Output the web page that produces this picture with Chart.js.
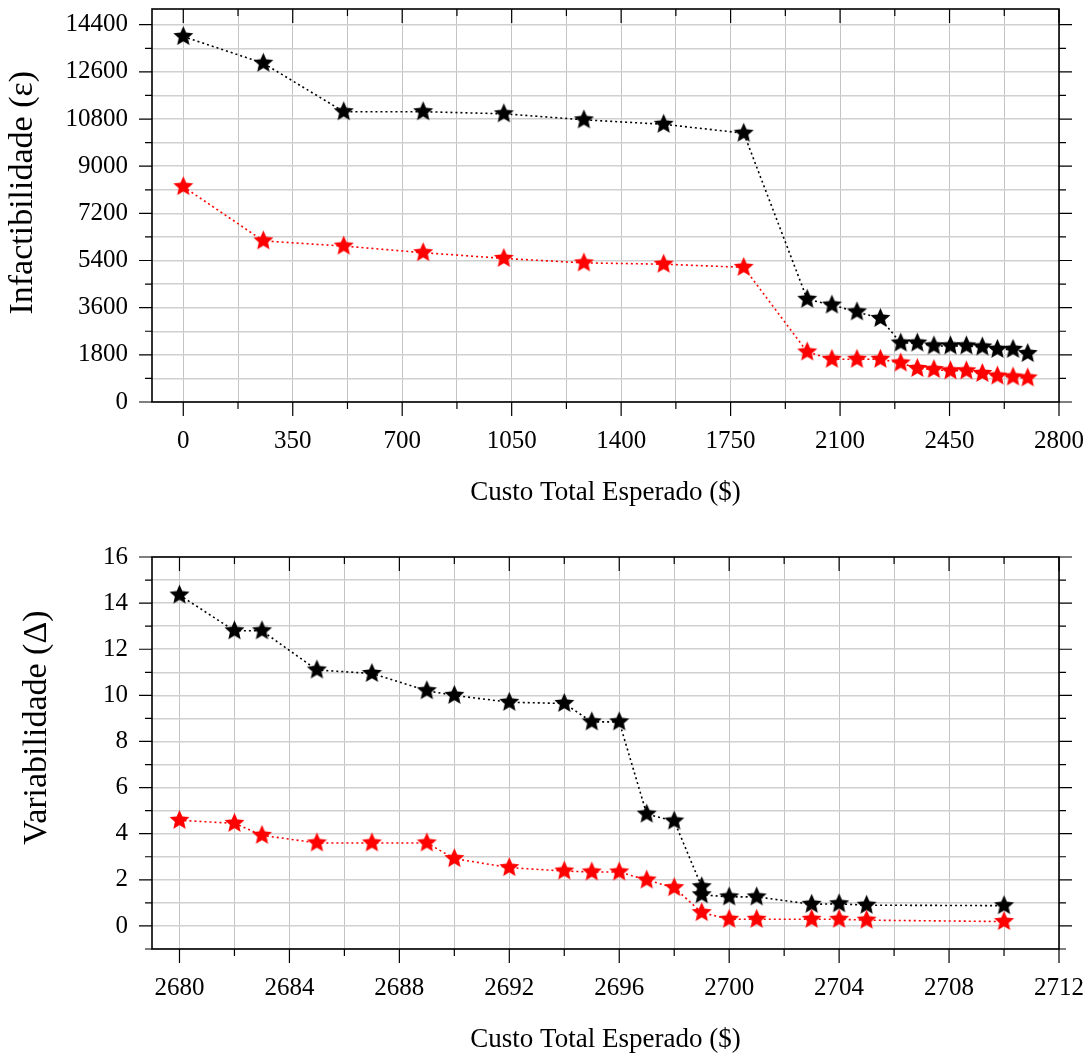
<!DOCTYPE html>
<html>
<head>
<meta charset="utf-8">
<script src="https://cdn.jsdelivr.net/npm/chart.js@4.4.1/dist/chart.umd.min.js"></script>
<style>
  html, body { margin: 0; padding: 0; background: #fff; }
  canvas { display: block; }
</style>
</head>
<body>
<canvas id="topChart" width="1091" height="530"></canvas>
<canvas id="bottomChart" width="1091" height="527"></canvas>
<script>
// upper panel: infactibilidade x custo
const topCost = [0, 256, 513, 767, 1025, 1281, 1536, 1792, 1995, 2074, 2154, 2229, 2294, 2347, 2400, 2453, 2504, 2555, 2603, 2653, 2700];
const topBlack = [13950, 12930, 11080, 11080, 11000, 10770, 10600, 10260, 3920, 3700, 3440, 3190, 2250, 2250, 2140, 2140, 2140, 2100, 2010, 2010, 1850];
const topRed = [8220, 6150, 5950, 5700, 5480, 5310, 5260, 5140, 1910, 1630, 1630, 1630, 1490, 1280, 1240, 1190, 1190, 1090, 990, 955, 920];

// lower panel: variabilidade x custo
const botCostBlack = [2680, 2682, 2683, 2685, 2687, 2689, 2690, 2692, 2694, 2695, 2696, 2697, 2698, 2699, 2699, 2700, 2701, 2703, 2704, 2705, 2710];
const botBlack = [14.35, 12.8, 12.8, 11.1, 10.95, 10.2, 10.0, 9.7, 9.65, 8.85, 8.85, 4.85, 4.55, 1.7, 1.35, 1.26, 1.26, 0.94, 0.96, 0.9, 0.88];
const botCostRed = [2680, 2682, 2683, 2685, 2687, 2689, 2690, 2692, 2694, 2695, 2696, 2697, 2698, 2699, 2700, 2701, 2703, 2704, 2705, 2710];
const botRed = [4.58, 4.45, 3.93, 3.6, 3.6, 3.6, 2.92, 2.53, 2.38, 2.34, 2.34, 1.99, 1.66, 0.58, 0.29, 0.29, 0.29, 0.29, 0.25, 0.19];

// tick labels
const topXLabels = [0, 350, 700, 1050, 1400, 1750, 2100, 2450, 2800];
const topYLabels = [0, 1800, 3600, 5400, 7200, 9000, 10800, 12600, 14400];
const botXLabels = [2680, 2684, 2688, 2692, 2696, 2700, 2704, 2708, 2712];
const botYLabels = [0, 2, 4, 6, 8, 10, 12, 14, 16];

Chart.defaults.font.family = "'Liberation Serif', 'Times New Roman', serif";
Chart.defaults.color = '#000';

function makeStar(color, r) {
  const c = document.createElement('canvas');
  const s = Math.ceil(r * 2 + 2);
  c.width = s; c.height = s;
  const g = c.getContext('2d');
  g.beginPath();
  for (let i = 0; i < 10; i++) {
    const rad = i % 2 ? r * 0.46 : r;
    const a = -Math.PI / 2 + i * Math.PI / 5;
    g.lineTo(s / 2 + rad * Math.cos(a), s / 2 + rad * Math.sin(a));
  }
  g.closePath();
  g.fillStyle = color;
  g.fill();
  return c;
}
const blackStar = makeStar('#000', 10.5);
const redStar = makeStar('#ff0000', 10.5);

// major labels plus the half-way minor positions
function withMinor(major, lo, hi) {
  const half = (major[1] - major[0]) / 2;
  const out = [];
  for (let v = major[0] - half; v <= major[major.length - 1] + half + 1e-9; v += half) {
    if (v >= lo - 1e-9 && v <= hi + 1e-9) out.push(v);
  }
  return out;
}

// black frame and tick marks (out at bottom/left/right, in at top)
const frameTicks = {
  id: 'frameTicks',
  afterDraw(chart, args, opts) {
    const { ctx, chartArea: a, scales: { x, y } } = chart;
    ctx.save();
    ctx.strokeStyle = '#000';
    ctx.lineWidth = 1.2;
    ctx.beginPath();
    x.ticks.forEach(t => {
      const px = x.getPixelForValue(t.value);
      const len = opts.xMajor.includes(t.value) ? 14 : 7;
      ctx.moveTo(px, a.bottom); ctx.lineTo(px, a.bottom + len);
      ctx.moveTo(px, a.top); ctx.lineTo(px, a.top + len);
    });
    y.ticks.forEach(t => {
      const py = y.getPixelForValue(t.value);
      const len = opts.yMajor.includes(t.value) ? 13 : 7;
      ctx.moveTo(a.left, py); ctx.lineTo(a.left - len, py);
      ctx.moveTo(a.right, py); ctx.lineTo(a.right + len, py);
    });
    ctx.stroke();
    ctx.lineWidth = 1.6;
    ctx.strokeRect(a.left, a.top, a.right - a.left, a.bottom - a.top);
    ctx.restore();
  }
};

function series(xs, ys) {
  return xs.map((v, i) => ({ x: v, y: ys[i] }));
}

function dataset(xs, ys, color, star, order) {
  return {
    data: series(xs, ys),
    borderColor: color,
    borderWidth: 1.6,
    borderDash: [2, 3],
    pointStyle: star,
    order: order,
    tension: 0
  };
}

function buildChart(id, c) {
  return new Chart(document.getElementById(id), {
    type: 'line',
    data: {
      datasets: [
        dataset(c.bx, c.by, '#000', blackStar, 1),
        dataset(c.rx, c.ry, '#ff0000', redStar, 0)
      ]
    },
    options: {
      responsive: false,
      animation: false,
      devicePixelRatio: 1,
      events: [],
      layout: { padding: { top: c.padTop, right: 32, left: 0, bottom: 0 } },
      plugins: {
        legend: { display: false },
        tooltip: { enabled: false },
        frameTicks: { xMajor: c.xLabels, yMajor: c.yLabels }
      },
      scales: {
        x: {
          type: 'linear',
          min: c.xMin,
          max: c.xMax,
          afterBuildTicks: s => { s.ticks = withMinor(c.xLabels, c.xMin, c.xMax).map(v => ({ value: v })); },
          afterFit: s => { s.height = c.xHeight; s.paddingLeft = 0; s.paddingRight = 0; },
          grid: { color: '#c4c4c4', lineWidth: 1, drawTicks: false },
          border: { display: false },
          ticks: {
            autoSkip: false,
            maxRotation: 0,
            padding: 24,
            font: { size: 25 },
            callback: v => (c.xLabels.includes(v) ? String(v) : '')
          },
          title: {
            display: true,
            text: 'Custo Total Esperado ($)',
            font: { size: 27 },
            padding: { top: 0, bottom: c.xTitlePad }
          }
        },
        y: {
          type: 'linear',
          min: c.yMin,
          max: c.yMax,
          afterBuildTicks: s => { s.ticks = withMinor(c.yLabels, c.yMin, c.yMax).map(v => ({ value: v })); },
          afterFit: s => { s.width = 152; s.paddingTop = 0; s.paddingBottom = 0; },
          grid: { color: '#d0d0d0', lineWidth: 1.5, drawTicks: false },
          border: { display: false },
          ticks: {
            autoSkip: false,
            padding: 24,
            font: { size: 25 },
            callback: v => (c.yLabels.includes(v) ? String(v) : '')
          },
          title: {
            display: true,
            text: c.yTitle,
            font: { size: 34 },
            padding: { top: c.yTitlePad, bottom: 0 }
          }
        }
      }
    },
    plugins: [frameTicks]
  });
}

buildChart('topChart', {
  bx: topCost, by: topBlack, rx: topCost, ry: topRed,
  xLabels: topXLabels, yLabels: topYLabels,
  xMin: -100, xMax: 2800, yMin: 0, yMax: 15000,
  padTop: 9, xHeight: 128, xTitlePad: 21,
  yTitle: '   Infactibilidade (ε)', yTitlePad: 3
});

buildChart('bottomChart', {
  bx: botCostBlack, by: botBlack, rx: botCostRed, ry: botRed,
  xLabels: botXLabels, yLabels: botYLabels,
  xMin: 2679, xMax: 2712, yMin: -1, yMax: 16,
  padTop: 27, xHeight: 108, xTitlePad: 1,
  yTitle: '      Variabilidade (Δ)', yTitlePad: 17
});
</script>
</body>
</html>
